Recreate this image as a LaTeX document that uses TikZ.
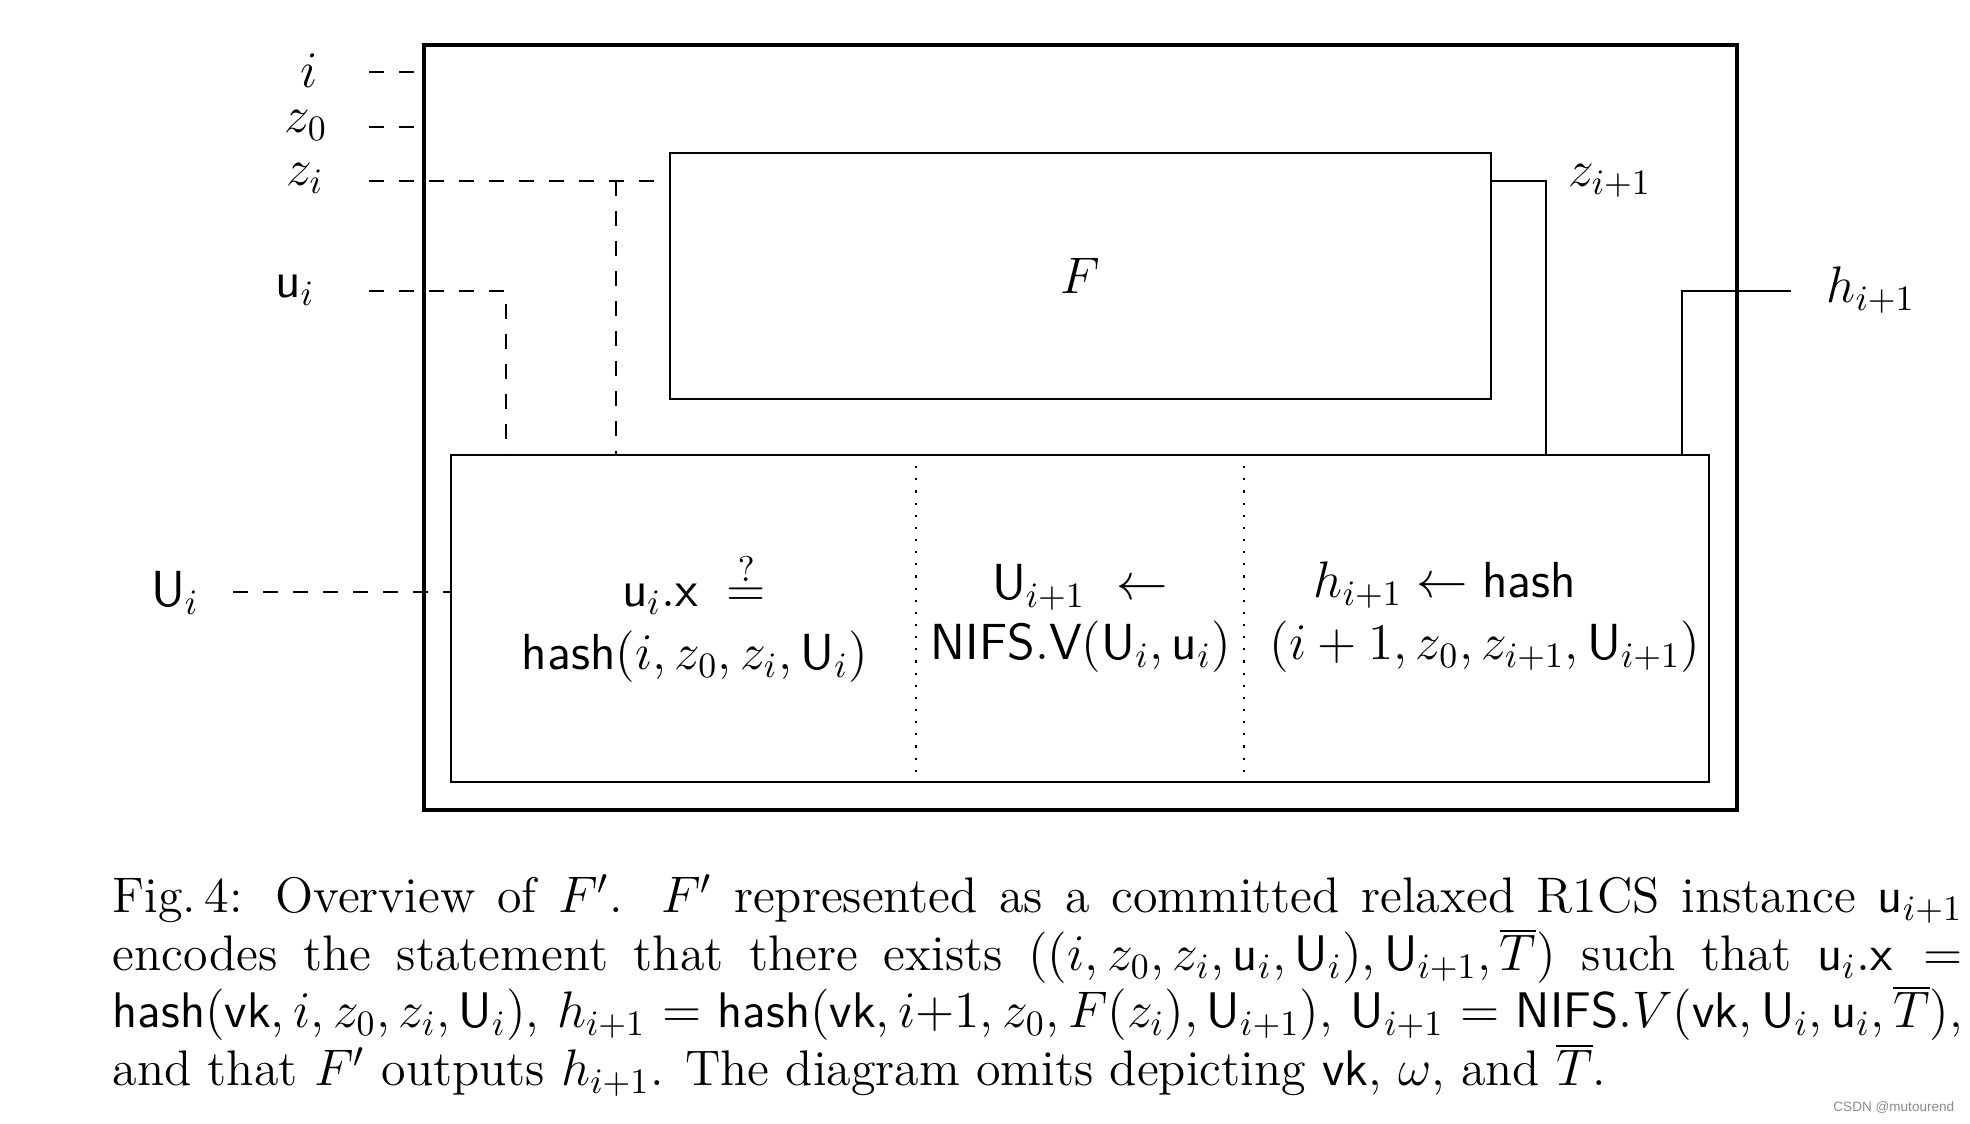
\documentclass[tikz,border=0pt]{standalone}
\usepackage{fontspec}
\newfontfamily\wmfont{Liberation Sans}
\usetikzlibrary{fit}
\begin{document}
\begin{tikzpicture}[x=0.28pt,y=-0.28pt,
  outerbox/.style={draw, line width=1.3pt, inner sep=0pt},
  thinbox/.style={draw, line width=0.55pt, inner sep=0pt},
  dsh/.style={line width=0.55pt, dash pattern=on 4.2pt off 4.2pt},
  wire/.style={line width=0.55pt},
  dots/.style={line width=0.6pt, dash pattern=on 0.6pt off 2.8pt},
  lab/.style={inner sep=0pt, anchor=base, font=\fontsize{14.2}{17}\selectfont},
  captxt/.style={inner sep=0pt, anchor=base west, font=\fontsize{14}{16.8}\selectfont}]
\useasboundingbox (0,0) rectangle (1970,1124);
\fill[white] (0,0) rectangle (1970,1124);
% boxes
\coordinate (o1) at (424,45); \coordinate (o2) at (1737,810);
\node[fit=(o1)(o2), outerbox] (outer) {};
\coordinate (f1) at (670,153); \coordinate (f2) at (1491,399);
\node[fit=(f1)(f2), thinbox] (Fbox) {};
\coordinate (b1) at (451,455); \coordinate (b2) at (1709,782);
\node[fit=(b1)(b2), thinbox] (bot) {};
\node[lab, anchor=center] (Flab) at (Fbox.center) {$F$};
% input labels
\node[lab] (li) at (309,88) {$i$};
\node[lab] (lz0) at (306,133) {$z_0$};
\node[lab] (lzi) at (305,186) {$z_i$};
\node[lab] (lui) at (295,298) {$\mathsf{u}_i$};
\node[lab] (lUi) at (175,607) {$\mathsf{U}_i$};
\node[lab] (lzn) at (1610,187) {$z_{i+1}$};
\node[lab] (lhn) at (1871,303) {$h_{i+1}$};
% dashed inputs
\coordinate (si) at (369,72); \draw[dsh] (si) -- (si -| outer.west);
\coordinate (s0) at (369,127); \draw[dsh] (s0) -- (s0 -| outer.west);
\coordinate (sz) at (369,181); \draw[dsh] (sz) -- (sz -| Fbox.west);
\coordinate (bz) at (616,181); \draw[dsh] (bz) -- (bz |- bot.north);
\coordinate (su) at (369,291); \coordinate (ku) at (506,291);
\draw[dsh] (su) -- (ku) -- (ku |- bot.north);
\coordinate (sU) at (233,592); \draw[dsh] (sU) -- (sU -| bot.west);
% solid outputs
\coordinate (kz) at (1546,181);
\draw[wire] (kz -| Fbox.east) -- (kz) -- (kz |- bot.north);
\coordinate (kh) at (1682,291); \coordinate (eh) at (1791,291);
\draw[wire] (kh |- bot.north) -- (kh) -- (eh);
% dotted dividers
\coordinate (d1) at (916,600); \coordinate (d2) at (1244,600);
\draw[dots] (d1 |- bot.north) -- (d1 |- bot.south);
\draw[dots] (d2 |- bot.north) -- (d2 |- bot.south);
% column texts
\node[lab] (c1a) at (694,607) {$\mathsf{u}_i.\mathsf{x}\; \stackrel{?}{=}$};
\node[lab] (c1b) at (695,670) {$\mathsf{hash}(i, z_0, z_i, \mathsf{U}_i)$};
\node[lab] (c2a) at (1080,600) {$\mathsf{U}_{i+1}\ \leftarrow$};
\node[lab] (c2b) at (1081,660) {$\mathsf{NIFS.V}(\mathsf{U}_i, \mathsf{u}_i)$};
\node[lab] (c3a) at (1445,598) {$h_{i+1} \leftarrow \mathsf{hash}$};
\node[lab] (c3b) at (1485,660) {$(i+1, z_0, z_{i+1}, \mathsf{U}_{i+1})$};
% caption
\node[captxt] (cap1) at (112,913) {\makebox[518pt][s]{Fig.\,4: Overview of $F'$. $F'$ represented as a committed relaxed R1CS instance $\mathsf{u}_{i+1}$}};
\node[captxt] (cap2) at (112,971) {\makebox[518pt][s]{encodes the statement that there exists $((i, z_0, z_i, \mathsf{u}_i, \mathsf{U}_i), \mathsf{U}_{i+1}, \overline{T})$ such that $\mathsf{u}_i.\mathsf{x} =$}};
\node[captxt] (cap3) at (112,1028) {\makebox[518pt][s]{$\mathsf{hash}(\mathsf{vk}, i, z_0, z_i, \mathsf{U}_i)$, $h_{i+1} = \mathsf{hash}(\mathsf{vk}, i{+}1, z_0, F(z_i), \mathsf{U}_{i+1})$, $\mathsf{U}_{i+1} = \mathsf{NIFS}.V(\mathsf{vk}, \mathsf{U}_i, \mathsf{u}_i, \overline{T})$,}};
\node[captxt] (cap4) at (112,1086) {and that $F'$ outputs $h_{i+1}$. The diagram omits depicting $\mathsf{vk}$, $\omega$, and $\overline{T}$.};
\node[inner sep=0pt, anchor=base east, font=\wmfont\fontsize{3.8}{4}\selectfont, text=black!45] (wm) at (1955,1112) {CSDN @mutourend};
\end{tikzpicture}
\end{document}
